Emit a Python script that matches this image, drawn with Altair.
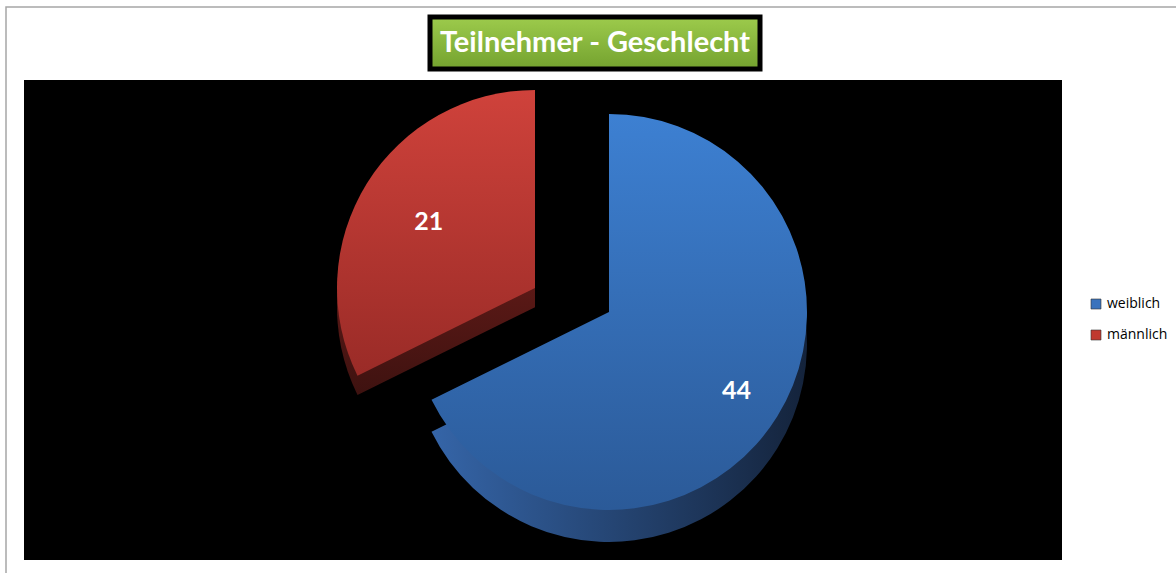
import altair as alt
import pandas as pd

# ---- data ----
categories = ["weiblich", "männlich"]
values = [44, 21]
legend_colors = ["#3a73bd", "#c0392f"]
title_text = "Teilnehmer - Geschlecht"

total = sum(values)
df = pd.DataFrame({"Geschlecht": categories, "Anzahl": values, "order": list(range(len(values)))})
one = pd.DataFrame({"t": [title_text]})

# ---- layout / style ----
W, H = 1038, 480
R = 198
DEPTH = 32
PX, PY = 66, -8           # pie centre shift from view centre
EX, EY = -74, -24         # explode shift of the red slice


def grad(c1, c2, horiz=False):
    return alt.LinearGradient(
        gradient="linear",
        stops=[alt.GradientStop(color=c1, offset=0), alt.GradientStop(color=c2, offset=1)],
        x1=0, y1=0, x2=1 if horiz else 0, y2=0 if horiz else 1,
    )


base = alt.Chart(df).transform_window(
    cum="sum(Anzahl)", sort=[alt.SortField("order")], frame=[None, 0]
).transform_calculate(
    start="datum.cum - datum.Anzahl", mid="datum.cum - datum.Anzahl / 2"
)

th_scale = alt.Scale(domain=[0, total])
theta_enc = dict(
    theta=alt.Theta("start:Q", scale=th_scale),
    theta2=alt.Theta2("cum:Q"),
)


def wedge(name, fill, dx, dy):
    return base.transform_filter(alt.datum.Geschlecht == name).mark_arc(
        radius=R, fill=fill, xOffset=dx, yOffset=dy, stroke=None
    ).encode(**theta_enc)


plot_bg = alt.Chart(one).mark_rect(fill="black", stroke=None).encode(
    x=alt.value(0), x2=alt.value(W), y=alt.value(0), y2=alt.value(H)
)

frame = alt.Chart(one).mark_rect(filled=False, stroke="#a6a6a6", strokeWidth=1.5).encode(
    x=alt.value(-18), x2=alt.value(1200), y=alt.value(-73), y2=alt.value(560)
)

legend_layer = base.mark_arc(radius=R, opacity=0, xOffset=PX, yOffset=PY).encode(
    **theta_enc,
    color=alt.Color(
        "Geschlecht:N",
        scale=alt.Scale(domain=categories, range=legend_colors),
        legend=alt.Legend(
            title=None, orient="none", legendX=1065, legendY=217,
            symbolType="square", symbolSize=100, symbolOpacity=1,
            symbolStrokeColor="#333333", symbolStrokeWidth=0.6,
            labelFont="Open Sans", labelFontSize=14, labelColor="#000000",
            rowPadding=17, padding=0,
        ),
    ),
)

side_blue = wedge("weiblich", grad("#3565a8", "#14233b", horiz=True), PX, PY + DEPTH)
side_red = wedge("männlich", grad("#8a2420", "#3e1210"), PX + EX, PY + EY + DEPTH * 0.6)
top_blue = wedge("weiblich", grad("#3d80d2", "#2b5a98"), PX, PY)
top_red = wedge("männlich", grad("#cf423b", "#9a2b27"), PX + EX, PY + EY)

lab_blue = base.transform_filter(alt.datum.Geschlecht == "weiblich").mark_text(
    font="Lato", fontWeight="bold", fontSize=25, color="white",
    xOffset=PX, yOffset=PY,
).encode(theta=alt.Theta("mid:Q", scale=th_scale), radius=alt.value(150), text="Anzahl:Q")

lab_red = base.transform_filter(alt.datum.Geschlecht == "männlich").mark_text(
    font="Lato", fontWeight="bold", fontSize=25, color="white",
    xOffset=PX + EX, yOffset=PY + EY,
).encode(theta=alt.Theta("mid:Q", scale=th_scale), radius=alt.value(125), text="Anzahl:Q")

title_box = alt.Chart(one).mark_rect(
    fill=grad("#9dcb4c", "#74a22f"), stroke="black", strokeWidth=5
).encode(x=alt.value(406), x2=alt.value(736), y=alt.value(-63), y2=alt.value(-11))

title_txt = alt.Chart(one).mark_text(
    font="Lato", fontWeight="bold", fontSize=29, color="white", align="center", baseline="middle"
).encode(x=alt.value(571), y=alt.value(-37), text="t:N")

chart = alt.layer(
    frame, plot_bg, legend_layer, side_blue, side_red, top_blue, top_red,
    lab_blue, lab_red, title_box, title_txt
).resolve_scale(theta="shared").properties(
    width=W, height=H,
    autosize=alt.AutoSizeParams(type="none"),
    padding={"left": 24, "top": 80, "right": 114, "bottom": 13},
    background="white",
).configure_view(fill="black", stroke=None)

chart.save("out.html", embed_options={"renderer": "svg", "actions": False})
